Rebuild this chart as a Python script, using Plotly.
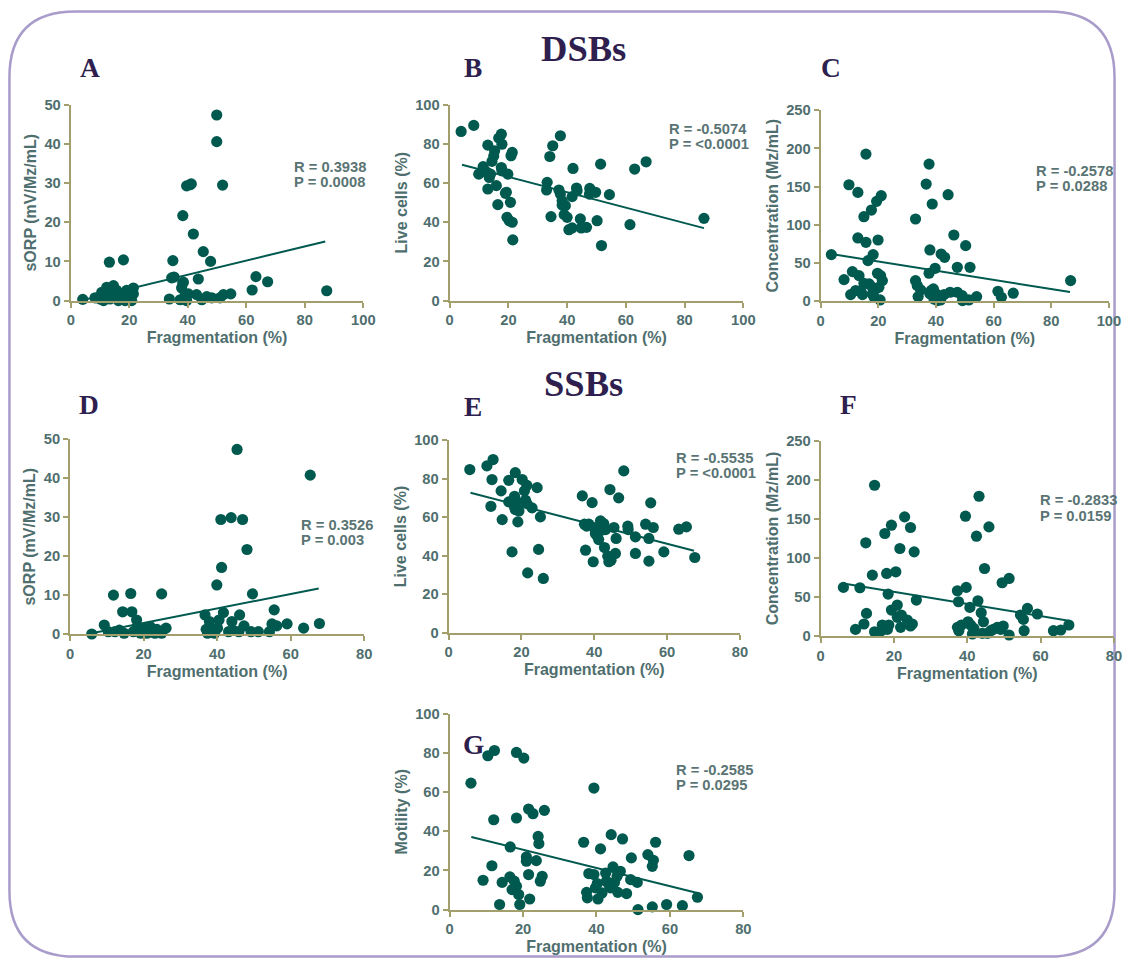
import plotly.graph_objects as go

W, H = 1129, 967

# ---------------- DATA ----------------
# DSBs panels
A_x = [4.1,13.2,18,8.3,10.6,12.3,14.6,15.7,16.9,19.1,21.4,21.4,11.2,13.4,16.3,18.6,20.3,17.4,19.1,14,10,15.7,20.8,
       33.7,34.9,34.5,35.3,38.3,38.3,38.5,37.9,37.4,39.1,40.2,39.6,39.6,40.8,41.2,41.9,43,43.6,44.8,45.3,46.5,47.8,
       48.2,49.9,49.9,51,51.9,52.2,54.7,62,63.3,67.3,87.5]
A_y = [0.3,9.8,10.4,0.7,2.1,3.4,3.8,2.6,1.7,2.6,3.2,1.7,0,0.4,0,0,0.4,0.8,1.3,1.7,0.4,1.3,0,
       0.4,10.2,5.8,6,21.7,4.4,4.7,3.2,0.2,1.3,1.7,0,29.3,29.6,29.8,17,1.5,5.5,0.2,12.5,1,10,
       0.7,47.4,40.6,0.7,29.5,1.5,1.7,2.7,6.1,4.8,2.5]

B_x = [3.9,8.2,9.9,11.4,11.9,12.7,13,13,13.5,13.9,14.4,15,15.3,15.9,16.4,16.7,17.6,17.8,17.6,17.8,19,19.3,19.5,19.8,
       20.3,20.7,20.9,21.3,21.3,21.5,33.2,33,34.1,34.5,35.1,37.7,37.2,37.7,38.3,38.3,39.4,39,40,40.6,41.7,41.7,42,
       43.2,43.4,44.5,44.8,46.6,47.7,47.6,49.7,50.2,51.4,51.7,54.4,61.4,63,66.9,86.6]
B_y = [86.4,89.5,64.6,68.4,66.3,65.5,79.4,57,62.9,64.6,71.1,73.8,76.5,58.7,49,83,85,79.9,68,66.3,54.8,55.3,42.5,64.6,
       40.8,50.2,74,75.7,40,31,60.4,56.5,73.6,42.9,79.1,84.2,56.5,54.4,51,48.8,48.5,43.9,42.5,36.2,37.1,53.1,67.5,
       57.5,56.1,41.7,37.1,37.4,57.3,54.4,55.3,40.8,69.7,28.1,54.1,38.8,67.2,70.9,42]

C_x = [3.7,8.1,9.8,11,10.4,12.1,12.9,12.9,13.3,13.9,14.5,15,15,15.7,15.7,16.4,16.8,17.6,17.9,17.9,18.2,18.5,19.1,19.4,
       19.7,19.9,20.2,20.6,20.8,21,21.4,32.9,32.9,33.5,33.8,34.7,36.6,37.6,37.6,37.9,37.9,38.3,38.7,39.1,39.3,39.7,
       40.1,40.5,41.6,41.8,43,42.8,44.2,44.9,46.2,47.4,47.4,49.1,49.2,50.3,51.4,51.8,54.1,61.5,62.7,66.8,86.7]
C_y = [61,28.3,152.4,38.8,8.7,13.9,142.4,82.8,33.5,13.9,8.7,110.6,23.5,192.5,77.1,53.1,22.6,119.3,18.3,9.6,61,5.2,16.1,
       130.7,36.6,80.1,18.3,1.7,33.5,138.1,27,107.6,27,20.5,6.1,14.8,153.3,179.4,36.6,67.1,9.6,13.9,127.2,16.1,3,43.1,
       9.6,0.9,1.7,61.8,57.5,8.7,139.4,11.8,86.7,11.8,44.4,7.4,0.9,72.7,1.7,44.4,6.1,13.1,5.2,10.5,27]

# SSBs panels
D_x = [5.9,9.3,10.4,11.8,12.2,13.4,14.3,14.7,16.5,16.8,17.2,18.1,18.3,19,19.2,20.4,20.9,21.8,22.2,23.1,23.6,24.9,24.9,
       26.1,36.7,37,37.4,37.9,38.5,39.3,39.9,40.1,40.5,41,41.2,41.7,43.1,43.8,44,44.4,45.4,45.9,46.1,46.9,47.3,48.1,
       49.2,49.6,51.2,54.2,54.9,55.5,56.2,59,63.5,65.3,67.8]
D_y = [0,2.3,0.6,10,0.6,1,5.7,0.2,10.4,5.7,0.6,3.6,1.9,1,0.2,1.5,0.2,1.9,0.6,0.2,1.2,10.3,0.2,
       1.5,4.9,1.2,0.2,3.2,0.9,0.2,12.6,1.5,3.6,29.4,17.1,5.5,0.6,29.9,3.2,0.9,47.4,0.6,4.9,29.4,2.1,21.7,
       0.6,10.3,0.6,0.6,2.6,6.2,2.1,2.6,1.5,40.8,2.7]

E_x = [5.8,10.5,12.2,11.9,11.6,14.4,14.7,16.5,16.5,17.4,18.1,18.3,18.1,18.3,18.8,19.3,19,20.2,20.8,21.1,21.5,21.5,21.7,
       22.9,24.3,24.7,25.2,26,36.7,37.3,37.6,37.9,38.5,39.4,39.7,39.9,40.3,40.8,41.2,41.7,42.1,42.6,42.8,43.1,43.7,44,
       44.3,44.6,45.4,45.8,46,46.7,48.1,49.2,49.3,51.3,51.3,54.1,55,55,55.5,56.2,59.1,63.2,65.3,67.6]
E_y = [84.8,86.7,90,79.6,65.7,73.7,58.8,79.2,68,42,70.9,83.2,65.4,64,68,63.3,57.6,79.6,73.7,68.9,76.6,67.1,31.1,
       64.9,75.4,43.3,60.2,28.2,71.1,56.4,42.9,55.4,56.4,67.6,36.9,54.7,51.6,50.2,48.4,58.1,53.3,56.7,44.3,53.6,39.8,36.9,
       74.4,37.7,54.7,41.2,49,70.1,84.1,55.4,53.6,49.8,41.2,56.4,49,37.2,67.5,54.7,42,53.8,55,39.1]

F_x = [6.2,9.5,10.7,11.8,12.3,12.5,14.1,14.7,14.7,16.5,16.8,17.5,18,18.2,18.4,18.6,19.3,19.3,20.5,20.9,20.9,21.6,21.8,
       22,22.9,23.6,24.5,24.5,25,25.5,26.1,37.3,37.3,37.6,37.7,38.4,39.5,39.7,40.2,40.7,40.9,41.4,41.8,42.5,42.9,43.2,
       43.8,44.1,44.4,44.7,45.5,45.9,46.4,47.1,48.2,49.1,49.5,49.8,51.4,51.4,54.5,55.3,55.5,56.4,59.1,63.5,65.5,67.7]
F_y = [62.3,8.5,61.9,15.4,119.5,29,78.1,5.5,193.3,6.8,14.1,131.4,80.2,8.5,53.8,14.1,142.1,33.3,82.3,39.7,23.9,112.2,11.1,
       26.9,152.7,20.5,139.1,12.8,15.4,107.9,46.1,11.1,58,43.9,6.8,14.1,153.6,62.3,18.3,36.7,14.1,2.6,9.8,128,45.2,179.2,
       29.9,3.4,18.3,86.6,3.4,139.9,6.8,8.5,11.1,8.5,68.3,12.8,73.8,1.3,26.9,21.3,6.8,35.4,28.2,6.8,7.7,14.1]

G_x = [5.8,9.1,10.4,11.5,12,12.2,13.6,14.3,16.4,16.5,17,17.6,18.2,18.2,18.2,18.8,19.1,20.2,20.9,20.9,21.5,21.5,21.8,
       22.7,23.6,24.1,24.3,24.7,25.2,25.8,36.5,37.3,37.5,37.9,39.3,39.3,39.7,40.2,40.4,41.1,41.5,42.5,42.7,43.4,43.8,
       44,44.5,44.9,45.6,45.8,46.5,47.1,48.2,49.3,49.5,51.1,51.3,54,55.2,55.2,55.5,56.1,59.1,63.4,65.2,67.5]
G_y = [64.6,15,78.6,22.4,45.9,81.3,2.6,13.9,16.7,32,10.2,14.5,80.3,46.8,11.9,7.7,2.6,77.4,26.9,24.7,51.4,17.9,5.4,
       49,25,37.4,33.7,14.5,17,50.7,34.4,8.8,6,18.4,17.9,62.1,11.1,13.3,5.4,31,8.5,18.7,14.5,12.8,11.1,
       38.3,21.8,13.9,17,8.8,19.6,36.1,8.2,15.3,26.4,13.9,0,28.1,1.4,22.1,25.2,34.4,2.6,2,27.6,6.3]

# fitted regression lines (x0, y0, x1, y1)
A_fit = [4, 0.1, 87, 15.1]
B_fit = [4.2, 69.4, 86.6, 37.0]
C_fit = [3.7, 61.8, 86.5, 12.0]
D_fit = [5.9, 0.2, 67.6, 11.7]
E_fit = [6.0, 72.7, 67.4, 42.6]
F_fit = [6.2, 67.4, 67.7, 19.6]
G_fit = [5.9, 37.1, 67.5, 8.5]

R_texts = ["R = 0.3938", "R = -0.5074", "R = -0.2578", "R = 0.3526", "R = -0.5535", "R = -0.2833", "R = -0.2585"]
P_texts = ["P = 0.0008", "P = <0.0001", "P = 0.0288", "P = 0.003", "P = <0.0001", "P = 0.0159", "P = 0.0295"]
letters = ["A", "B", "C", "D", "E", "F", "G"]
y_titles = ["sORP (mV/Mz/mL)", "Live cells (%)", "Concentration (Mz/mL)",
            "sORP (mV/Mz/mL)", "Live cells (%)", "Concentration (Mz/mL)", "Motility (%)"]
x_title = "Fragmentation (%)"
x_max = [100, 100, 100, 80, 80, 80, 80]
y_max = [50, 100, 250, 50, 100, 250, 100]
y_step = [10, 20, 50, 10, 20, 50, 20]
group_titles = ["DSBs", "SSBs"]

xs = [A_x, B_x, C_x, D_x, E_x, F_x, G_x]
ys = [A_y, B_y, C_y, D_y, E_y, F_y, G_y]
fits = [A_fit, B_fit, C_fit, D_fit, E_fit, F_fit, G_fit]

# ---------------- LAYOUT (target pixel boxes) ----------------
boxes = [  # left, right, top, bottom (pixels)
    (70.7, 363, 104, 300),
    (449.3, 742.7, 104, 300),
    (820, 1108, 109.3, 300.7),
    (70, 364, 439, 634),
    (448.3, 739.3, 440, 632.7),
    (820, 1113, 440.7, 636),
    (449.3, 742.7, 714, 910),
]
rp_pos = [(291.7, 166, 181), (666, 128, 143), (1033, 170, 185), (299, 525, 540),
          (673, 458, 473), (1037, 500, 516), (673, 770, 785)]
letter_pos = [(90, 67), (473, 67), (830, 67), (89, 405), (473, 407), (848, 405), (473, 745)]
title_pos = [(583, 48), (583, 383)]

# compensation for the capture transform observed (screen = S*page + O)
S, OX, OY = 0.985, 4.0, 7.0


def px(x):
    return ((x - OX) / S) / W


def py(y):
    return 1 - ((y - OY) / S) / H


def fs(v):
    return round(v / S, 2)


MARK = "#00594f"
AXC = "#a39f6c"
TXT = "#4f6e6e"
NAVY = "#2e1f4f"

fig = go.Figure()
layout = dict(width=W, height=H, margin=dict(l=0, r=0, t=0, b=0, pad=0),
              paper_bgcolor="white", plot_bgcolor="white", showlegend=False,
              font=dict(family="Liberation Sans, Arial, sans-serif"))
annotations = []

for i in range(7):
    sfx = "" if i == 0 else str(i + 1)
    xa, ya = "x" + sfx, "y" + sfx
    fig.add_trace(go.Scatter(x=xs[i], y=ys[i], mode="markers", xaxis=xa, yaxis=ya,
                             marker=dict(size=fs(11), color=MARK), cliponaxis=False, hoverinfo="x+y"))
    f = fits[i]
    fig.add_trace(go.Scatter(x=[f[0], f[2]], y=[f[1], f[3]], mode="lines", xaxis=xa, yaxis=ya,
                             line=dict(color=MARK, width=2), cliponaxis=False, hoverinfo="skip"))
    l, r, t, b = boxes[i]
    common = dict(showline=True, linecolor=AXC, linewidth=2, ticks="outside", ticklen=5,
                  tickwidth=2, tickcolor=AXC, showgrid=False, zeroline=False,
                  tickfont=dict(size=fs(14.5), color=TXT, weight="bold"), fixedrange=True)
    layout["xaxis" + sfx] = dict(domain=[px(l), px(r)], anchor=ya, range=[0, x_max[i]],
                                 tickmode="array", tickvals=list(range(0, x_max[i] + 1, 20)),
                                 title=dict(text="<b>" + x_title + "</b>", standoff=3,
                                            font=dict(size=fs(15.8), color=TXT)), **common)
    layout["yaxis" + sfx] = dict(domain=[py(b), py(t)], anchor=xa, range=[0, y_max[i]],
                                 tickmode="array", tickvals=list(range(0, y_max[i] + 1, y_step[i])),
                                 title=dict(text="<b>" + y_titles[i] + "</b>", standoff=4,
                                            font=dict(size=fs(15.8), color=TXT)), **common)
    rx, ry, pyy = rp_pos[i]
    for txt, yy in ((R_texts[i], ry), (P_texts[i], pyy)):
        annotations.append(dict(text="<b>" + txt + "</b>", x=px(rx), y=py(yy), xref="paper", yref="paper",
                                xanchor="left", yanchor="middle", showarrow=False,
                                font=dict(size=fs(14.5), color="#5a7474")))
    lx, ly = letter_pos[i]
    annotations.append(dict(text="<b>" + letters[i] + "</b>", x=px(lx), y=py(ly), xref="paper", yref="paper",
                            xanchor="center", yanchor="middle", showarrow=False,
                            font=dict(size=fs(27), color=NAVY, family="Liberation Serif, Times New Roman, serif")))

for (tx, ty), txt in zip(title_pos, group_titles):
    annotations.append(dict(text="<b>" + txt + "</b>", x=px(tx), y=py(ty), xref="paper", yref="paper",
                            xanchor="center", yanchor="middle", showarrow=False,
                            font=dict(size=fs(36), color=NAVY, family="Liberation Serif, Times New Roman, serif")))

layout["annotations"] = annotations

# rounded frame (page pixels, kept inside the page)
fx0, fx1, fy0, fy1, rad = 5.5, 1126.5, 3.5, 964.5, 67


def qx(x):
    return x / W


def qy(y):
    return 1 - y / H


pts = (f"M {qx(fx0 + rad)},{qy(fy0)} L {qx(fx1 - rad)},{qy(fy0)} "
       f"Q {qx(fx1)},{qy(fy0)} {qx(fx1)},{qy(fy0 + rad)} L {qx(fx1)},{qy(fy1 - rad)} "
       f"Q {qx(fx1)},{qy(fy1)} {qx(fx1 - rad)},{qy(fy1)} L {qx(fx0 + rad)},{qy(fy1)} "
       f"Q {qx(fx0)},{qy(fy1)} {qx(fx0)},{qy(fy1 - rad)} L {qx(fx0)},{qy(fy0 + rad)} "
       f"Q {qx(fx0)},{qy(fy0)} {qx(fx0 + rad)},{qy(fy0)} Z")
layout["shapes"] = [dict(type="path", path=pts, xref="paper", yref="paper",
                         line=dict(color="#a99ccb", width=2.5), layer="below")]

fig.update_layout(**layout)
fig.write_html("out.html",
               config={"displayModeBar": False},
               post_script="document.body.style.margin='0px';document.body.style.overflow='hidden';")
